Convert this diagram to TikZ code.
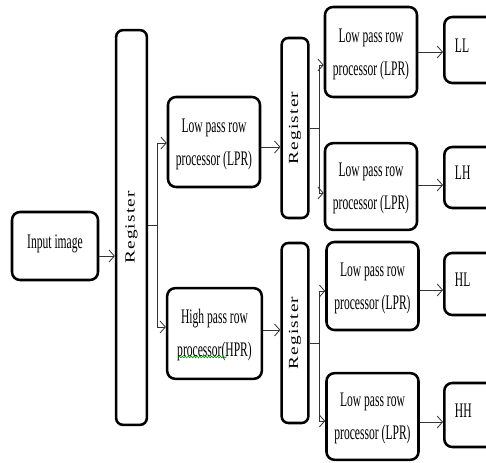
\documentclass[tikz,border=0pt]{standalone}
\usepackage{fontspec}
\setmainfont{Liberation Serif}
\usetikzlibrary{arrows.meta,decorations.pathmorphing,calc}
\newcommand{\hsq}[1]{\scalebox{0.56}[1]{#1}}
\newcommand{\twoline}[2]{\hsq{\begin{tabular}{@{}c@{}}#1\\#2\end{tabular}}}
\newcommand{\regtxt}{\rotatebox{90}{\scalebox{1}[0.72]{\fontsize{14.5pt}{16pt}\selectfont\addfontfeature{LetterSpace=6}Register}}}
\begin{document}
\begin{tikzpicture}[x=0.75pt,y=-0.75pt,
  font=\fontsize{15.5pt}{24.75pt}\selectfont,
  box/.style={draw=black, line width=1.9pt, rounded corners=6pt, fill=white, inner sep=0pt, align=center},
  procbox/.style={box, minimum width=69pt, minimum height=66pt},
  regbox/.style={box, rounded corners=5pt, minimum width=20pt, minimum height=135pt},
  outbox/.style={box, anchor=west, text width=52pt, inner xsep=8pt, align=left, text depth=7pt},
  ln/.style={draw=black!80, line width=0.6pt},
  arr/.style={ln, -{Straight Barb[length=4pt,width=9pt,line width=0.6pt]}}
]
\useasboundingbox (0,0) rectangle (486,463);
\clip (0,0) rectangle (486,463);

% nodes
\node[box, minimum width=64.5pt, minimum height=51pt, text depth=6pt] (inp) at (55,246) {\hsq{Input image}};
\node[box, rounded corners=5pt, minimum width=23pt, minimum height=296pt] (reg1) at (131.5,227.5) {\regtxt};
\node[procbox, minimum height=67.5pt] (lpr) at (214,142) {\twoline{Low pass row}{processor (LPR)}};
\node[procbox, minimum width=71pt, minimum height=68pt] (hpr) at (214.5,333.5) {\twoline{High pass row}{processor(HPR)}};
\node[regbox] (reg2) at (295,128) {\regtxt};
\node[regbox] (reg3) at (295,333) {\regtxt};
\node[procbox, minimum height=67.5pt] (la) at (371,52) {\twoline{Low pass row}{processor (LPR)}};
\node[procbox, minimum height=65pt] (lb) at (371,186.5) {\twoline{Low pass row}{processor (LPR)}};
\node[procbox, minimum height=66pt] (lc) at (372.5,286) {\twoline{Low pass row}{processor (LPR)}};
\node[procbox, minimum height=65pt] (ld) at (372.5,416.5) {\twoline{Low pass row}{processor (LPR)}};
\node[outbox, minimum height=49.5pt] (ll) at (443,50) {\hsq{LL}};
\node[outbox, minimum height=45.75pt] (lh) at (443,177.5) {\hsq{LH}};
\node[outbox, minimum height=46.5pt] (hl) at (443,284) {\hsq{HL}};
\node[outbox, minimum height=48pt] (hh) at (443,415) {\hsq{HH}};

% helper coordinates
\coordinate (y256) at (0,256);
\coordinate (y147) at (0,147);
\coordinate (y330) at (0,330);
\coordinate (b1) at (157,225);
\coordinate (b1t) at (157,143);
\coordinate (b1b) at (157,327);
\coordinate (b2) at (319,128);
\coordinate (b2t) at (319,65);
\coordinate (b2b) at (319,193);
\coordinate (b3) at (319,343);
\coordinate (b3t) at (319,291);
\coordinate (b3b) at (319,421);
\coordinate (y52) at (0,52);
\coordinate (y185) at (0,185);
\coordinate (y290) at (0,290);
\coordinate (y422) at (0,422);

% connectors
\draw[arr] (inp.east |- y256) -- (reg1.west |- y256);
\draw[ln] (reg1.east |- b1) -- (b1);
\draw[arr] (b1) -- (b1t) -- (lpr.west |- b1t);
\draw[arr] (b1) -- (b1b) -- (hpr.west |- b1b);
\draw[arr] (lpr.east |- y147) -- (reg2.west |- y147);
\draw[arr] (hpr.east |- y330) -- (reg3.west |- y330);
\draw[ln] (reg2.east |- b2) -- (b2);
\draw[arr] (b2) -- (b2t) -- (la.west |- b2t);
\draw[arr] (b2) -- (b2b) -- (lb.west |- b2b);
\draw[ln] (reg3.east |- b3) -- (b3);
\draw[arr] (b3) -- (b3t) -- (lc.west |- b3t);
\draw[arr] (b3) -- (b3b) -- (ld.west |- b3b);
\draw[arr] (la.east |- y52) -- (ll.west |- y52);
\draw[arr] (lb.east |- y185) -- (lh.west |- y185);
\draw[arr] (lc.east |- y290) -- (hl.west |- y290);
\draw[arr] (ld.east |- y422) -- (hh.west |- y422);

% spell-check squiggle
\draw[green!60!black, line width=0.5pt, decorate, decoration={snake, amplitude=0.6pt, segment length=2.2pt}]
  ($(hpr.center)+(-36,23.5)$) -- ($(hpr.center)+(12.5,23.5)$);
\end{tikzpicture}
\end{document}
